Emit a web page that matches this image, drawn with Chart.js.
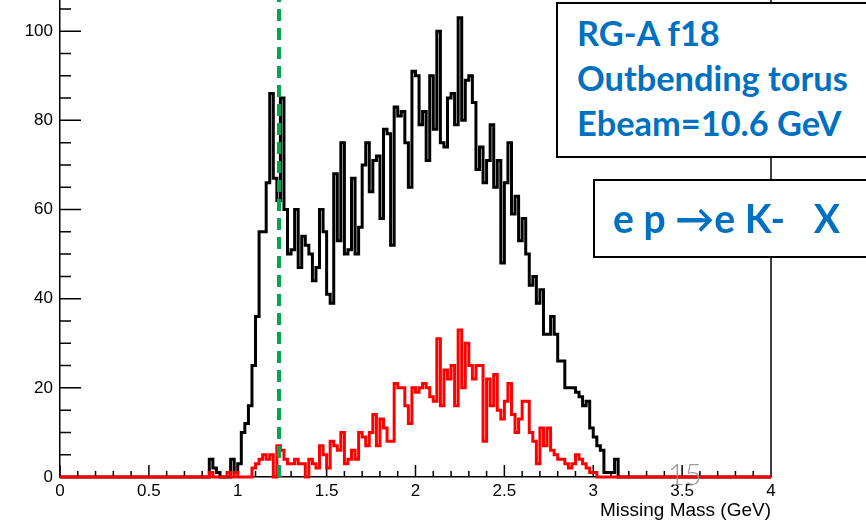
<!DOCTYPE html>
<html><head><meta charset="utf-8">
<script src="https://cdn.jsdelivr.net/npm/chart.js@4.4.1/dist/chart.umd.min.js"></script>
<style>
html,body{margin:0;padding:0;background:#fff;width:866px;height:522px;overflow:hidden;position:relative}
#c{position:absolute;left:0;top:-40px;width:866px;height:562px}
.box{position:absolute;background:#fff;border:2px solid #000;box-sizing:border-box}
.t{position:absolute;white-space:pre;color:#0070C0;font-family:Lato,"DejaVu Sans",sans-serif;font-weight:700}
#pg{position:absolute;white-space:pre;color:#9a9a9a;font-family:Lato,"DejaVu Sans",sans-serif;font-weight:300}
</style></head><body>
<canvas id="c" width="866" height="562"></canvas>
<div class="box" style="left:556px;top:2px;width:400px;height:156px"></div>
<div class="box" style="left:593px;top:179px;width:400px;height:79px"></div>
<div class="t" id="l1">RG-A f18</div>
<div class="t" id="l2">Outbending torus</div>
<div class="t" id="l3">Ebeam=10.6 GeV</div>
<div class="t" id="l4">e p →e K-   X</div>
<div id="pg">15</div>
<script>
// ---- data ----
const xRange = [0, 4];
const binWidth = 0.02;
const markerMass = 1.232;
const xMajorTicks = [0, 0.5, 1, 1.5, 2, 2.5, 3, 3.5, 4];
const yMajorTicks = [0, 20, 40, 60, 80, 100];
const yMax = 112;

const blackFirstBin = 43;
const blackCounts = [
  4,2,1,0,0,0,4,1,3,10,
  12,16,25,36,55,55,66,86,67,62,
  85,60,50,51,60,47,54,52,50,44,
  47,60,55,41,39,68,53,75,50,51,
  67,50,56,70,75,64,71,72,58,78,
  77,52,83,81,82,75,65,91,90,79,
  82,71,90,78,100,75,74,85,86,79,
  103,80,89,90,84,69,74,66,71,79,
  65,71,48,66,75,59,63,53,58,50,
  43,45,39,42,32,32,36,32,26,26,
  20,20,20,19,18,16,17,11,9,7,
  6,1,1,1,4
];
const redFirstBin = 43;
const redCounts = [
  1,0,0,0,0,1,0,1,0,0,
  0,0,2,3,4,5,4,5,0,7,
  6,4,3,3,4,3,3,0,4,3,
  2,7,5,2,8,7,6,10,3,4,
  6,4,10,9,7,10,14,7,13,11,
  8,8,21,20,20,16,12,20,19,20,
  21,20,18,17,31,16,24,22,25,16,
  33,20,30,25,22,25,25,8,22,16,
  23,15,13,17,21,14,10,13,17,17,
  10,8,3,11,7,11,6,5,4,4,
  3,2,3,5,4,3,2,1,1
];

// ---- build step-histogram points from the bins ----
const nBins = Math.round((xRange[1] - xRange[0]) / binWidth);
function histPoints(first, counts) {
  const pts = [];
  for (let i = 0; i < nBins; i++) {
    const k = i - first;
    const v = (k >= 0 && k < counts.length) ? counts[k] : 0;
    pts.push({x: +(xRange[0] + i * binWidth).toFixed(4), y: v});
  }
  pts.push({x: xRange[1], y: 0});
  return pts;
}

const axisFont = {family: '"Liberation Sans", Arial, sans-serif', size: 17};

const axisTicks = {
  id: 'axisTicks',
  beforeDatasetsDraw(chart) {
    const {ctx, chartArea: a, scales: {x, y}} = chart;
    ctx.save();
    ctx.strokeStyle = '#000';
    ctx.lineWidth = 1.5;
    ctx.beginPath();
    for (let k = 0; k <= 40; k++) {
      const px = x.getPixelForValue(k * 0.1);
      const len = (k % 5 === 0) ? 12 : 6;
      ctx.moveTo(px, a.bottom); ctx.lineTo(px, a.bottom - len);
    }
    for (let k = 0; k * 5 <= yMax; k++) {
      const py = y.getPixelForValue(k * 5);
      const len = (k % 4 === 0) ? 21 : 11;
      ctx.moveTo(a.left, py); ctx.lineTo(a.left + len, py);
    }
    ctx.moveTo(a.right, a.top); ctx.lineTo(a.right, a.bottom);
    ctx.stroke();
    ctx.restore();
  }
};

new Chart(document.getElementById('c'), {
  type: 'line',
  data: {
    datasets: [
      {label: 'marker', data: [{x: markerMass, y: 0}, {x: markerMass, y: yMax}],
       borderColor: '#00a650', borderWidth: 4, borderDash: [12, 7], pointRadius: 0, fill: false},
      {label: 'red', data: histPoints(redFirstBin, redCounts), stepped: 'after',
       borderColor: '#ff0000', borderWidth: 3, pointRadius: 0, fill: false, clip: false, borderJoinStyle: 'miter'},
      {label: 'black', data: histPoints(blackFirstBin, blackCounts), stepped: 'after',
       borderColor: '#000000', borderWidth: 3, pointRadius: 0, fill: false, clip: false, borderJoinStyle: 'miter'}
    ]
  },
  options: {
    responsive: false, animation: false, devicePixelRatio: 1,
    layout: {padding: {top: 17.7, left: 0, right: 95, bottom: 0}},
    plugins: {legend: {display: false}, tooltip: {enabled: false}},
    scales: {
      x: {
        type: 'linear', min: xRange[0], max: xRange[1],
        afterBuildTicks: s => { s.ticks = xMajorTicks.map(v => ({value: v})); },
        ticks: {font: axisFont, color: '#000', padding: 4, maxRotation: 0, autoSkip: false,
                callback: v => String(v)},
        grid: {display: false, drawTicks: false},
        border: {display: true, color: '#000', width: 1.5},
        title: {display: true, text: 'Missing Mass (GeV)', align: 'end', color: '#000',
                font: {family: '"Liberation Sans", Arial, sans-serif', size: 19}, padding: {top: 0, bottom: 0}},
        afterFit: s => { s.height = 45; }
      },
      y: {
        type: 'linear', min: 0, max: yMax,
        afterBuildTicks: s => { s.ticks = yMajorTicks.map(v => ({value: v})); },
        ticks: {font: axisFont, color: '#000', padding: 7, callback: v => String(v)},
        grid: {display: false, drawTicks: false},
        border: {display: true, color: '#000', width: 1.5},
        afterFit: s => { s.width = 60; }
      }
    }
  },
  plugins: [axisTicks]
});

// ---- annotation text placement ----
const fam = 'Lato, "DejaVu Sans", sans-serif';
const mctx = document.createElement('canvas').getContext('2d');
function metrics(text, weight, size) {
  mctx.font = `${weight} ${size}px ${fam}`;
  return mctx.measureText(text);
}
function fitSize(text, weight, w) { return 100 * w / metrics(text, weight, 100).width; }
function place(id, x, base, size, weight) {
  const el = document.getElementById(id);
  const m = metrics('Hg', weight, size);
  const A = m.fontBoundingBoxAscent, D = m.fontBoundingBoxDescent;
  el.style.fontSize = size + 'px';
  el.style.lineHeight = size + 'px';
  el.style.left = x + 'px';
  el.style.top = (base - ((size - (A + D)) / 2 + A)) + 'px';
}
const s1 = fitSize('Outbending torus', 700, 271);
place('l1', 577, 47, s1, 700);
place('l2', 577, 92, s1, 700);
place('l3', 577, 137, s1, 700);
const s2 = fitSize('e p →e K-   X', 700, 227);
place('l4', 613, 233, s2, 700);
place('pg', 668, 485, 29, 300);
</script>
</body></html>
